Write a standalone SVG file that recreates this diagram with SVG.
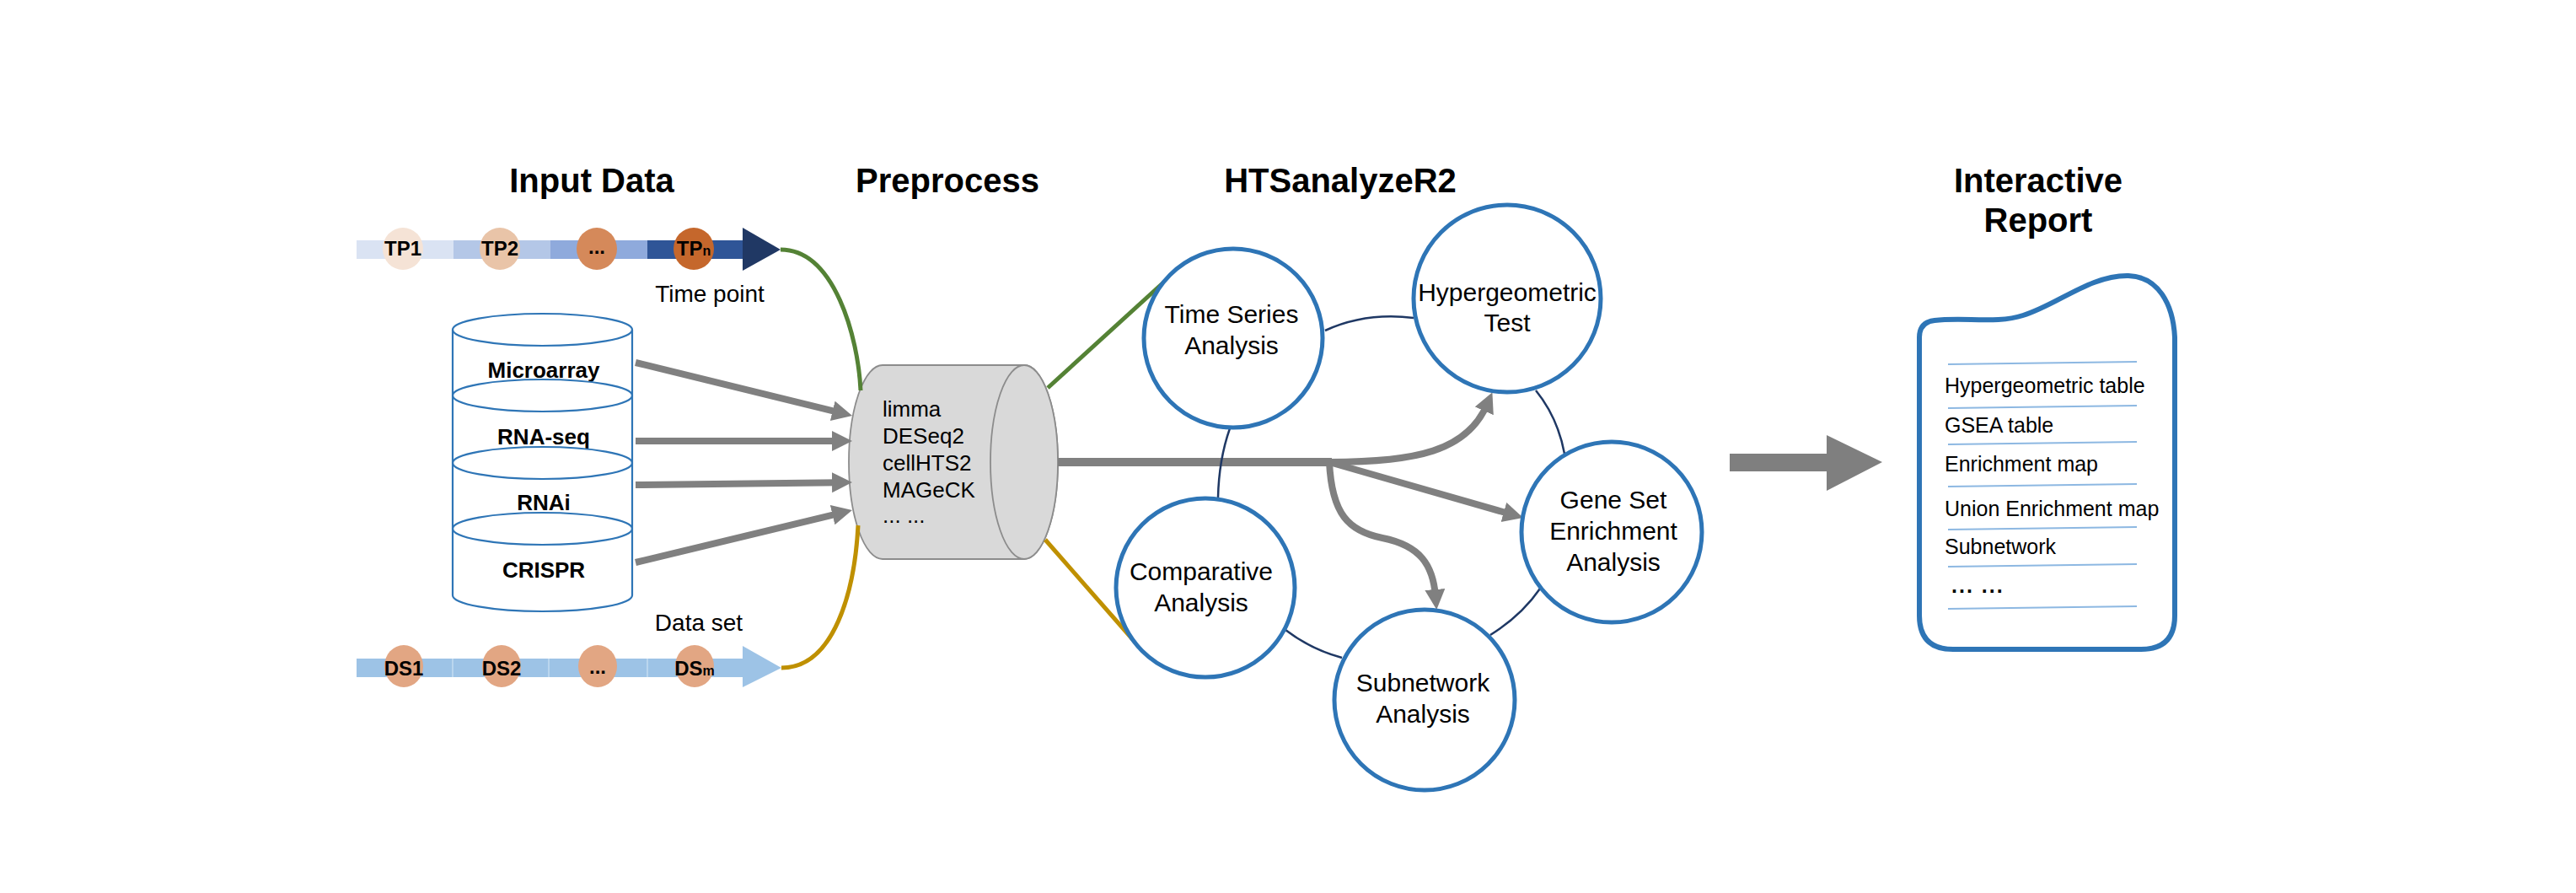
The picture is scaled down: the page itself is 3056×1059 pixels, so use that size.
<svg xmlns="http://www.w3.org/2000/svg" width="3056" height="1059" viewBox="0 0 3056 1059">
<defs>
<style>
.t{font-family:"Liberation Sans",Arial,sans-serif;fill:#000}
.title{font-size:40px;font-weight:bold;text-anchor:middle}
.lab{font-size:24px;font-weight:bold;text-anchor:middle}
.cyl{font-size:26px;font-weight:bold;text-anchor:middle}
.small{font-size:28px}
.node{font-size:30px;text-anchor:middle}
.pre{font-size:26px}
.rep{font-size:25px}
.an{fill:#fff;stroke:#2e75b6;stroke-width:5}
.db{fill:none;stroke:#2e75b6;stroke-width:2.2}
.gray{fill:none;stroke:#808080;stroke-width:8}
.link{fill:none;stroke:#1f3864;stroke-width:2.5}
.rl{stroke:#8db8e2;stroke-width:2}
</style>
<marker id="ah" markerUnits="userSpaceOnUse" markerWidth="26" markerHeight="26" refX="8" refY="12" orient="auto">
<path d="M0,0 L24,12 L0,24 Z" fill="#808080"/>
</marker>
</defs>
<rect width="3056" height="1059" fill="#fff"/>

<g id="titles">
<text class="t title" x="702" y="228">Input Data</text>
<text class="t title" x="1124" y="228">Preprocess</text>
<text class="t title" x="1590" y="228">HTSanalyzeR2</text>
<text class="t title" x="2418" y="228">Interactive</text>
<text class="t title" x="2418" y="275">Report</text>
</g>

<g id="time-points">
<rect x="423" y="285" width="115" height="22" fill="#dae3f3"/>
<rect x="538" y="285" width="115" height="22" fill="#b4c7e7"/>
<rect x="653" y="285" width="115" height="22" fill="#8faadc"/>
<rect x="768" y="285" width="113" height="22" fill="#2f5597"/>
<path d="M881,270 L926,296 L881,321 Z" fill="#203864"/>
<ellipse cx="478" cy="295" rx="24" ry="25" fill="#f5e3d6"/>
<ellipse cx="593" cy="295" rx="24" ry="25" fill="#e9c4a8"/>
<ellipse cx="708" cy="295" rx="24" ry="25" fill="#d5895a"/>
<ellipse cx="823" cy="295" rx="24" ry="25" fill="#c5672c"/>
<text class="t lab" x="478" y="303">TP1</text>
<text class="t lab" x="593" y="303">TP2</text>
<text class="t lab" x="708" y="301">...</text>
<text class="t lab" x="823" y="303">TP<tspan font-size="16">n</tspan></text>
<text class="t small" x="842" y="358" text-anchor="middle">Time point</text>
</g>

<g id="data-types">
<text class="t cyl" x="645" y="448">Microarray</text>
<text class="t cyl" x="645" y="527">RNA-seq</text>
<text class="t cyl" x="645" y="605">RNAi</text>
<text class="t cyl" x="645" y="685">CRISPR</text>
<line class="db" x1="537" y1="391" x2="537" y2="706"/>
<line class="db" x1="750" y1="391" x2="750" y2="706"/>
<ellipse class="db" cx="643.5" cy="391" rx="106.5" ry="19"/>
<ellipse class="db" cx="643.5" cy="469" rx="106.5" ry="19"/>
<ellipse class="db" cx="643.5" cy="549" rx="106.5" ry="19"/>
<ellipse class="db" cx="643.5" cy="627" rx="106.5" ry="19"/>
<path class="db" d="M537,706 A106.5,19 0 0 0 750,706"/>
</g>

<g id="data-sets">
<rect x="423" y="781" width="458" height="22" fill="#9dc3e6"/>
<path d="M881,766 L927,792 L881,815 Z" fill="#9dc3e6"/>
<line x1="537" y1="781" x2="537" y2="803" stroke="#c5dcf0" stroke-width="1.5"/>
<line x1="651" y1="781" x2="651" y2="803" stroke="#c5dcf0" stroke-width="1.5"/>
<line x1="768" y1="781" x2="768" y2="803" stroke="#c5dcf0" stroke-width="1.5"/>
<ellipse cx="479" cy="790" rx="23" ry="25" fill="#e2a683"/>
<ellipse cx="595" cy="790" rx="23" ry="25" fill="#e2a683"/>
<ellipse cx="709" cy="790" rx="23" ry="25" fill="#e2a683"/>
<ellipse cx="824" cy="790" rx="23" ry="25" fill="#e2a683"/>
<text class="t lab" x="479" y="801">DS1</text>
<text class="t lab" x="595" y="801">DS2</text>
<text class="t lab" x="709" y="799">...</text>
<text class="t lab" x="824" y="801">DS<tspan font-size="16">m</tspan></text>
<text class="t small" x="829" y="748" text-anchor="middle">Data set</text>
</g>

<g id="preprocess">
<path d="M1047,433 L1215,433 A40,115 0 0 1 1215,663 L1047,663 A40,115 0 0 1 1047,433 Z" fill="#d9d9d9" stroke="#8c8c8c" stroke-width="1.8"/>
<ellipse cx="1215" cy="548" rx="40" ry="115" fill="#d9d9d9" stroke="#8c8c8c" stroke-width="1.8"/>
<text class="t pre" x="1047" y="494">limma</text>
<text class="t pre" x="1047" y="526">DESeq2</text>
<text class="t pre" x="1047" y="558">cellHTS2</text>
<text class="t pre" x="1047" y="590">MAGeCK</text>
<text class="t pre" x="1047" y="620" font-size="20">... ...</text>
</g>

<g id="connectors">
<path d="M926,296 C990,296 1018,400 1021,463" fill="none" stroke="#548235" stroke-width="5"/>
<path d="M927,792 C990,792 1014,700 1018,623" fill="none" stroke="#bf9000" stroke-width="5"/>
<line x1="754" y1="430" x2="995.5" y2="489.2" class="gray" marker-end="url(#ah)"/>
<line x1="754" y1="523" x2="995" y2="523" class="gray" marker-end="url(#ah)"/>
<line x1="754" y1="575" x2="995" y2="572.2" class="gray" marker-end="url(#ah)"/>
<line x1="754" y1="667" x2="995.4" y2="608.8" class="gray" marker-end="url(#ah)"/>
<line x1="1243" y1="460" x2="1400" y2="317" stroke="#548235" stroke-width="5"/>
<line x1="1240" y1="640" x2="1347" y2="762" stroke="#bf9000" stroke-width="5"/>
<line x1="1255" y1="548" x2="1580" y2="548" stroke="#808080" stroke-width="10"/>
<path d="M1577,548 C1680,548 1740,535 1764,480" class="gray" stroke-width="7" marker-end="url(#ah)"/>
<line x1="1577" y1="548" x2="1791.6" y2="609.6" class="gray" stroke-width="7" marker-end="url(#ah)"/>
<path d="M1577,548 C1580,610 1600,630 1640,638 C1685,647 1700,670 1703,707" class="gray" stroke-width="7" marker-end="url(#ah)"/>
<path class="link" d="M1572,392 Q1620,370 1677,377"/>
<path class="link" d="M1822,463 Q1848,495 1856,538"/>
<path class="link" d="M1459,508 Q1446,545 1445,590"/>
<path class="link" d="M1525,747 Q1555,770 1592,780"/>
<path class="link" d="M1768,753 Q1805,730 1827,698"/>
<path d="M2052,538 L2167,538 L2167,516 L2233,548 L2167,582 L2167,559 L2052,559 Z" fill="#7f7f7f"/>
</g>

<g id="time-series">
<circle class="an" cx="1463" cy="401" r="106"/>
<text class="t node" x="1461" y="383">Time Series</text>
<text class="t node" x="1461" y="420">Analysis</text>
</g>
<g id="hypergeometric">
<circle class="an" cx="1788" cy="354" r="111"/>
<text class="t node" x="1788" y="357">Hypergeometric</text>
<text class="t node" x="1788" y="393">Test</text>
</g>
<g id="gsea">
<circle class="an" cx="1912" cy="631" r="107"/>
<text class="t node" x="1914" y="603">Gene Set</text>
<text class="t node" x="1914" y="640">Enrichment</text>
<text class="t node" x="1914" y="677">Analysis</text>
</g>
<g id="comparative">
<circle class="an" cx="1430" cy="697" r="106"/>
<text class="t node" x="1425" y="688">Comparative</text>
<text class="t node" x="1425" y="725">Analysis</text>
</g>
<g id="subnetwork">
<circle class="an" cx="1690" cy="830" r="107"/>
<text class="t node" x="1688" y="820">Subnetwork</text>
<text class="t node" x="1688" y="857">Analysis</text>
</g>

<g id="report">
<path d="M2295,380 C2330,376 2370,384 2400,374 C2440,362 2480,326 2525,327 C2560,328 2578,360 2580,400 L2580,730 Q2580,770 2540,770 L2317,770 Q2277,770 2277,730 L2277,400 Q2277,382 2295,380 Z" fill="#fff" stroke="#2e75b6" stroke-width="6"/>
<line class="rl" x1="2311" y1="432" x2="2535" y2="429"/>
<line class="rl" x1="2311" y1="484" x2="2535" y2="481"/>
<line class="rl" x1="2311" y1="527" x2="2535" y2="524"/>
<line class="rl" x1="2311" y1="577" x2="2535" y2="574"/>
<line class="rl" x1="2311" y1="628" x2="2535" y2="625"/>
<line class="rl" x1="2311" y1="672" x2="2535" y2="669"/>
<line class="rl" x1="2311" y1="722" x2="2535" y2="719"/>
<text class="t rep" x="2307" y="466">Hypergeometric table</text>
<text class="t rep" x="2307" y="513">GSEA table</text>
<text class="t rep" x="2307" y="559">Enrichment map</text>
<text class="t rep" x="2307" y="612">Union Enrichment map</text>
<text class="t rep" x="2307" y="657">Subnetwork</text>
<text class="t rep" x="2315" y="703" font-weight="bold" letter-spacing="2">...   ...</text>
</g>
</svg>
